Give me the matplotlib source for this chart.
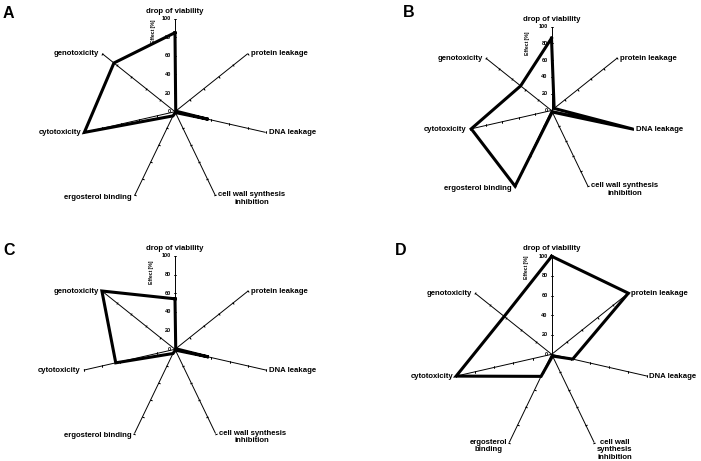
import numpy as np
import matplotlib
matplotlib.use("Agg")
import matplotlib.pyplot as plt

plt.rcParams['font.family'] = ['Liberation Sans', 'DejaVu Sans']

# ---------------- data ----------------
categories = ['drop of viability', 'protein leakage', 'DNA leakage',
              'cell wall synthesis\ninhibition', 'ergosterol binding',
              'cytotoxicity', 'genotoxicity']
categories_D = ['drop of viability', 'protein leakage', 'DNA leakage',
                'cell wall\nsynthesis\ninhibition', 'ergosterol\nbinding',
                'cytotoxicity', 'genotoxicity']
values_A = [85, 1, 37, 1, 5, 100, 84]
values_B = [86, 4, 100, 2, 100, 98, 47]
values_C = [54, 1, 37, 1, 5, 65, 100]
values_D = [100, 100, 22, 2, 25, 100, 62]
radial_ticks = [0, 20, 40, 60, 80, 100]
radial_labels = ['0', '20', '40', '60', '80', '100']
panel_letters = ['A', 'B', 'C', 'D']
axis_title = 'Effect [%]'

# ---------------- layout (pixels) ----------------
W, H = 701, 461
fig = plt.figure(figsize=(W / 100, H / 100), dpi=100)
fig.patch.set_facecolor('white')

layout = [
    dict(cx=175.0, cy=111.7, R=93.0, lx=3, ly=18, eff=86, effdx=-22),
    dict(cx=551.5, cy=110.5, R=84.0, lx=403, ly=17, eff=80, effdx=-24),
    dict(cx=175.0, cy=349.3, R=93.5, lx=3, ly=255, eff=82, effdx=-23),
    dict(cx=551.7, cy=354.3, R=98.0, lx=395, ly=255, eff=89, effdx=-25),
]
all_values = [values_A, values_B, values_C, values_D]
all_cats = [categories, categories, categories, categories_D]

# label placement per axis: (ha, va, dx, dy) in pixels
label_pos = [('center', 'bottom', 0, 4),
             ('left', 'center', 3, 0),
             ('left', 'center', 3, 0),
             ('left', 'top', 3, 4),
             ('right', 'center', -3, -2),
             ('right', 'center', -3, 0),
             ('right', 'center', -3, 0)]
label_pos_D = [('center', 'bottom', 0, 4),
               ('left', 'center', 3, 0),
               ('left', 'center', 2, 0),
               ('left', 'top', 3, 4),
               ('right', 'top', -2, 4),
               ('right', 'center', -3, 0),
               ('right', 'center', -3, 0)]

n = len(categories)
theta = np.linspace(0, 2 * np.pi, n, endpoint=False)

for i, (lay, vals, cats) in enumerate(zip(layout, all_values, all_cats)):
    cx, cy, R = lay['cx'], lay['cy'], lay['R']
    rect = [(cx - R) / W, 1 - (cy + R) / H, 2 * R / W, 2 * R / H]
    ax = fig.add_axes(rect, projection='polar')
    ax.set_theta_zero_location('N')
    ax.set_theta_direction(-1)
    ax.set_ylim(0, 100)
    ax.set_axis_off()

    # spokes
    for t in theta:
        ax.plot([t, t], [0, 100], color='black', lw=0.7, clip_on=False,
                solid_capstyle='butt')
        ang = 90 - np.degrees(t)
        ax.plot([t] * 5, radial_ticks[1:], linestyle='none',
                marker=(2, 2, ang), markersize=1.5, mew=0.5,
                color='black', clip_on=False)

    # data polygon
    tt = np.concatenate([theta, theta[:1]])
    vv = np.concatenate([vals, vals[:1]])
    ax.plot(tt, vv, color='black', lw=2.2, clip_on=False,
            solid_joinstyle='miter')

    # radial tick labels
    for r, lab in zip(radial_ticks, radial_labels):
        ax.annotate(lab, xy=(0, r), xytext=(-4, 0), textcoords='offset pixels',
                    ha='right', va='center', fontsize=4.0, fontweight='bold')
    ax.annotate(axis_title, xy=(0, lay['eff']), xytext=(lay['effdx'], 0),
                textcoords='offset pixels', ha='center', va='center',
                rotation=90, fontsize=3.6, fontweight='bold')

    # category labels
    lp = label_pos_D if i == 3 else label_pos
    for t, c, (ha, va, dx, dy) in zip(theta, cats, lp):
        ax.annotate(c, xy=(t, 100), xytext=(dx, dy), textcoords='offset pixels',
                    ha=ha, va=va, fontsize=5.6, fontweight='bold',
                    multialignment='center', linespacing=1.15)

    fig.text(lay['lx'] / W, 1 - lay['ly'] / H, panel_letters[i],
             ha='left', va='baseline', fontsize=11.5, fontweight='bold')

fig.savefig('out.png', dpi=100, facecolor='white')
